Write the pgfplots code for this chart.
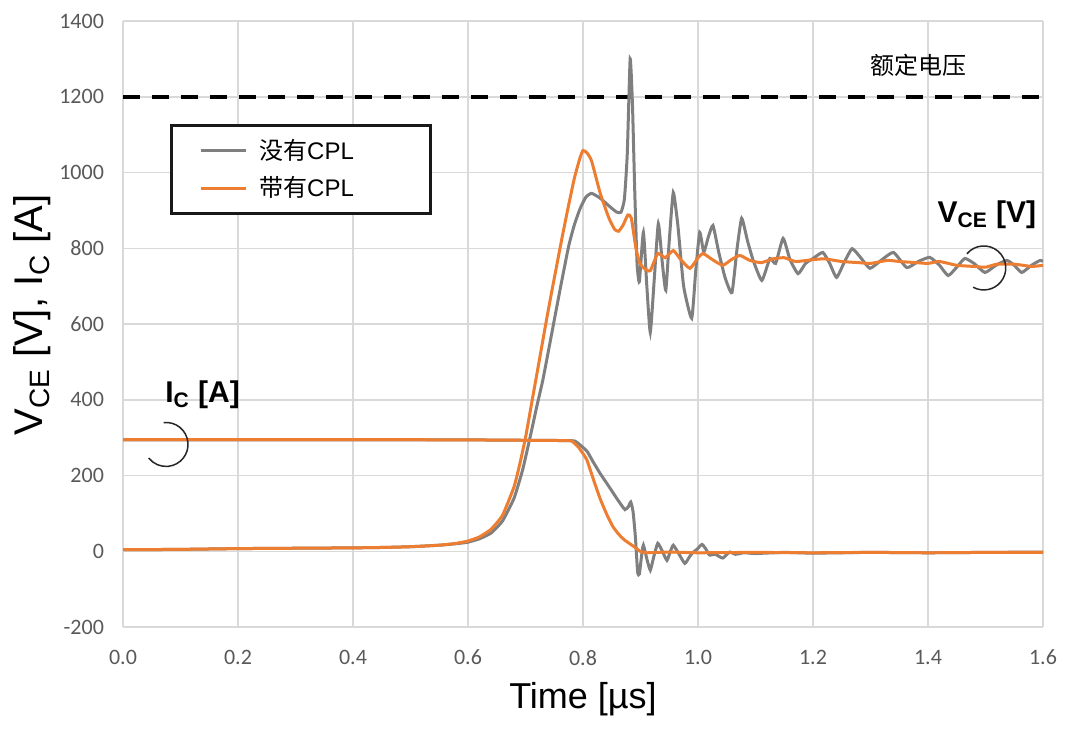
\documentclass[border=0pt]{standalone}
\usepackage{pgfplots}
\pgfplotsset{compat=1.18}
\usepackage{fontspec}
\setmainfont{Liberation Sans}
\newfontfamily\calibri{Carlito}
\newfontfamily\cjk{Noto Sans CJK SC}
\definecolor{cgray}{HTML}{7F7F7F}
\definecolor{corange}{HTML}{ED7D31}
\definecolor{gridc}{HTML}{D9D9D9}
\definecolor{tickc}{HTML}{595959}
\begin{document}
\begin{tikzpicture}
\useasboundingbox (-61.5pt,-51.5pt) rectangle (478.5pt,313.5pt);
\begin{axis}[
  at={(0,0)}, anchor=south west,
  scale only axis, width=460pt, height=303pt,
  xmin=0, xmax=1.6, ymin=-200, ymax=1400,
  xtick={0,0.2,0.4,0.6,0.8,1.0,1.2,1.4,1.6},
  xticklabels={0.0,0.2,0.4,0.6,0.8,1.0,1.2,1.4,1.6},
  ytick={-200,0,200,400,600,800,1000,1200,1400},
  yticklabels={-200,0,200,400,600,800,1000,1200,1400},
  major tick length=0pt,
  axis line style={draw=none},
  grid=major,
  major grid style={color=gridc, line width=0.75pt},
  /pgf/number format/assume math mode=true,
  ticklabel style={font=\calibri\fontsize{11}{13}\selectfont, text=tickc},
  yticklabel style={xshift=-6pt},
  xticklabel style={yshift=-8pt},
  xlabel={Time [µs]},
  ylabel={V\textsubscript{CE} [V], I\textsubscript{C} [A]},
  xlabel style={at={(axis description cs:0.5,-0.1337)}, anchor=base, font=\fontsize{18}{20}\selectfont},
  ylabel style={at={(axis description cs:-0.087,0.515)}, anchor=base, font=\fontsize{20}{22}\selectfont},
  legend style={at={(axis description cs:0.051,0.830)}, anchor=north west,
    draw=black!90, line width=1.3pt, fill=white,
    inner xsep=14pt, inner ysep=7pt,
    font=\fontsize{12}{14}\selectfont,
    nodes={inner sep=0pt},
    row sep=7pt},
  legend cell align=left,
  legend image code/.code={\draw[#1] (0pt,0pt) -- (22.5pt,0pt);},
]
\addplot[forget plot, black, line width=2pt, dash pattern=on 8.5pt off 6pt] coordinates {(0,1200) (1.6,1200)};

\addplot[cgray, line width=1.5pt, smooth, tension=0.3] coordinates {
(0,4) (0.1,5) (0.2,7) (0.3,8) (0.4,9) (0.45,10) (0.5,12) (0.55,16) (0.58,20) (0.6,24)
(0.62,33) (0.64,48) (0.66,80) (0.68,140) (0.695,215) (0.71,315) (0.72,385) (0.73,451)
(0.745,570) (0.76,690) (0.775,805) (0.785,862) (0.795,905) (0.805,935) (0.815,945)
(0.83,932) (0.845,912) (0.858,896) (0.866,895) (0.872,930) (0.877,1050) (0.882,1300)
(0.886,1180) (0.890,950) (0.894,760) (0.898,712) (0.905,842) (0.911,700) (0.917,578)
(0.924,720) (0.931,865) (0.938,760) (0.944,689) (0.950,820) (0.957,947) (0.965,860)
(0.975,700) (0.989,615) (0.996,740) (1.003,842) (1.010,790) (1.018,830) (1.026,860)
(1.036,790) (1.047,723) (1.059,683) (1.068,800) (1.076,879) (1.086,820) (1.096,768)
(1.111,715) (1.125,773) (1.135,760) (1.148,826) (1.160,770) (1.174,733) (1.187,760)
(1.2,773) (1.217,789) (1.229,760) (1.241,723) (1.255,765) (1.268,799) (1.283,775)
(1.299,747) (1.32,770) (1.34,789) (1.363,749) (1.383,765) (1.403,776) (1.42,755)
(1.435,728) (1.45,750) (1.464,773) (1.48,760) (1.499,736) (1.518,755) (1.537,768)
(1.55,755) (1.563,736) (1.58,755) (1.595,768) (1.6,765)
};
\addlegendentry{\makebox[77.5pt][l]{\hspace*{6pt}{\cjk 没有}CPL}}

\addplot[forget plot, cgray, line width=1.5pt, smooth, tension=0.3] coordinates {
(0,294) (0.2,294) (0.4,294) (0.6,294) (0.7,293) (0.78,292) (0.789,288) (0.797,278)
(0.807,264) (0.818,235) (0.83,205) (0.842,178) (0.852,155) (0.863,130) (0.873,110)
(0.879,118) (0.883,130) (0.887,105) (0.891,40) (0.895,-55) (0.898,-60) (0.902,-10)
(0.905,16) (0.911,-20) (0.917,-50) (0.923,-15) (0.93,21) (0.938,0) (0.946,-24)
(0.952,0) (0.957,16) (0.966,-5) (0.977,-32) (0.985,-15) (0.99,-5) (0.998,5)
(1.007,18) (1.014,5) (1.02,-10) (1.03,-8) (1.043,-18) (1.055,-2) (1.065,-8)
(1.08,-4) (1.1,-6) (1.15,-3) (1.2,-5) (1.3,-3) (1.4,-4) (1.5,-3) (1.6,-2)
};

\addplot[corange, line width=1.5pt, smooth, tension=0.3] coordinates {
(0,4) (0.1,5) (0.2,7) (0.3,8) (0.4,9) (0.45,10) (0.5,12) (0.55,16) (0.58,21) (0.6,27)
(0.62,38) (0.64,58) (0.66,95) (0.68,170) (0.69,230) (0.70,300) (0.71,385) (0.72,470)
(0.74,640) (0.76,800) (0.772,892) (0.785,985) (0.795,1040) (0.800,1058) (0.807,1052)
(0.815,1030) (0.83,945) (0.845,880) (0.855,850) (0.862,845) (0.87,862) (0.878,888)
(0.884,880) (0.892,800) (0.899,760) (0.908,745) (0.917,741) (0.93,786) (0.943,775)
(0.957,794) (0.97,770) (0.986,747) (1.0,775) (1.009,786) (1.025,770) (1.043,755)
(1.058,770) (1.073,781) (1.09,768) (1.11,762) (1.13,772) (1.15,775) (1.17,765)
(1.2,770) (1.22,772) (1.25,765) (1.28,762) (1.3,760) (1.33,768) (1.35,765) (1.38,762)
(1.4,760) (1.42,765) (1.45,755) (1.48,752) (1.5,750) (1.52,758) (1.55,758) (1.58,752) (1.6,755)
};
\addlegendentry{\makebox[77.5pt][l]{\hspace*{6pt}{\cjk 带有}CPL}}

\addplot[forget plot, corange, line width=1.5pt, smooth, tension=0.3] coordinates {
(0,295) (0.2,295) (0.4,295) (0.6,294) (0.7,293) (0.775,292) (0.783,288) (0.792,275)
(0.800,258) (0.807,240) (0.818,190) (0.83,138) (0.842,95) (0.852,65) (0.862,45)
(0.872,30) (0.887,14) (0.895,5) (0.899,0) (0.91,-4) (0.95,-2) (1.0,-4) (1.1,-3)
(1.2,-4) (1.3,-3) (1.4,-4) (1.5,-3) (1.6,-3)
};

\node[font=\cjk\fontsize{12}{14}\selectfont] at (axis cs:1.384,1282) {额定电压};
\node[anchor=base west, font=\bfseries\fontsize{15}{17}\selectfont, inner sep=0pt] at (axis cs:0.073,393) {I\textsubscript{C} [A]};
\node[anchor=base west, font=\bfseries\fontsize{15}{17}\selectfont, inner sep=0pt] at (axis cs:1.416,868) {V\textsubscript{CE} [V]};
\draw[black!85, line width=0.75pt] (axis cs:0.0748,282) ++(96:11pt) arc[start angle=96, end angle=-142, radius=11pt];
\draw[black!85, line width=0.75pt] (axis cs:1.497,748) ++(140:11pt) arc[start angle=140, end angle=-119, radius=11pt];
\end{axis}
\end{tikzpicture}
\end{document}
